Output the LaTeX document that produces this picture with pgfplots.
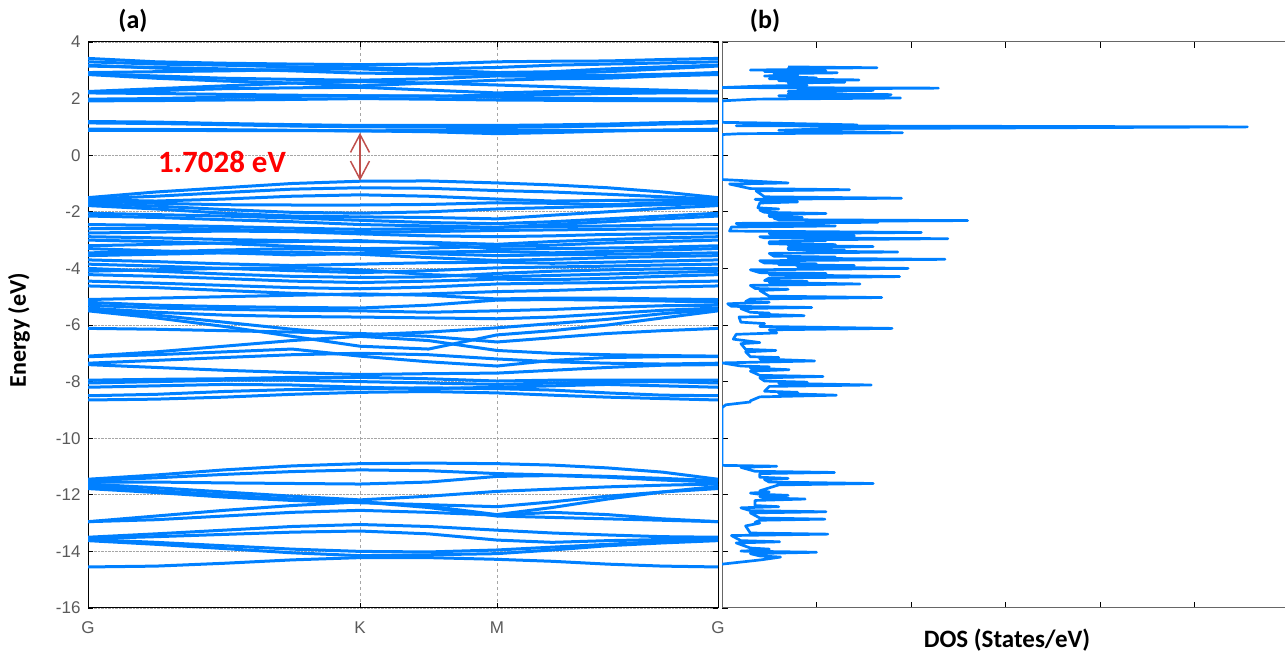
\documentclass[border=0pt]{standalone}
\usepackage{fontspec}
\setmainfont{Carlito}
\newfontfamily\tickfont{Liberation Sans}
\usepackage{pgfplots}
\usepackage{pgfplotstable}
\pgfplotsset{compat=1.18}
\usetikzlibrary{arrows.meta}
\definecolor{bandblue}{RGB}{0,128,255}
\definecolor{arrowred}{RGB}{192,80,77}
\definecolor{tickgray}{RGB}{90,90,90}

\pgfplotstableread{
name k0 k1 k2 k3 k4 k5 k6 k7 k8 k9 k10
x 0 0.1079 0.2158 0.3238 0.4317 0.5405 0.6492 0.7369 0.8246 0.9123 1
c1 1.19 1.17 1.12 1.08 1.05 1.05 1.05 1.07 1.10 1.15 1.19
c2 1.14 1.12 1.08 1.03 1.00 0.99 0.98 1.00 1.04 1.10 1.14
c3 0.92 0.91 0.90 0.88 0.86 0.83 0.76 0.80 0.85 0.89 0.92
c4 0.88 0.88 0.87 0.87 0.86 0.87 0.88 0.88 0.88 0.88 0.88
u1 3.42 3.30 3.25 3.22 3.20 3.22 3.30 3.32 3.33 3.38 3.42
u2 3.30 3.22 3.18 3.12 3.08 3.05 3.10 3.18 3.22 3.26 3.30
u3 3.18 3.08 3.00 3.02 3.10 3.02 2.92 2.95 3.05 3.12 3.18
u4 3.15 3.10 3.05 2.98 2.90 2.88 2.85 2.90 2.95 3.05 3.15
u5 2.92 2.95 2.98 3.02 3.05 2.95 2.88 2.85 2.82 2.86 2.92
u6 2.88 2.80 2.72 2.68 2.65 2.70 2.80 2.78 2.75 2.82 2.88
u7 2.85 2.72 2.62 2.55 2.45 2.55 2.65 2.70 2.72 2.80 2.85
u8 2.25 2.35 2.45 2.55 2.60 2.55 2.48 2.42 2.35 2.30 2.25
u9 2.22 2.28 2.35 2.38 2.40 2.30 2.20 2.25 2.28 2.24 2.22
u10 2.20 2.18 2.15 2.12 2.10 2.08 2.12 2.15 2.18 2.20 2.20
u11 1.98 2.00 2.05 2.08 2.10 2.10 2.05 2.02 2.00 1.99 1.98
u12 1.92 1.93 1.95 1.97 2.00 1.98 1.95 1.94 1.93 1.93 1.92
v1 -1.50 -1.30 -1.15 -1.00 -0.92 -0.91 -0.98 -1.05 -1.15 -1.30 -1.50
v2 -1.55 -1.45 -1.32 -1.20 -1.15 -1.17 -1.25 -1.30 -1.38 -1.47 -1.55
v3 -1.58 -1.62 -1.55 -1.45 -1.40 -1.45 -1.55 -1.62 -1.60 -1.58 -1.58
v4 -1.62 -1.70 -1.75 -1.76 -1.76 -1.74 -1.68 -1.70 -1.75 -1.68 -1.62
v5 -1.70 -1.80 -1.92 -2.02 -2.05 -2.00 -1.90 -1.85 -1.80 -1.75 -1.70
v6 -1.78 -1.90 -2.05 -2.15 -2.18 -2.20 -2.25 -2.12 -2.00 -1.88 -1.78
v7 -2.05 -2.10 -2.15 -2.22 -2.30 -2.38 -2.42 -2.35 -2.25 -2.15 -2.05
v8 -2.15 -2.20 -2.28 -2.35 -2.45 -2.50 -2.55 -2.45 -2.35 -2.25 -2.15
v9 -2.45 -2.48 -2.52 -2.58 -2.62 -2.60 -2.55 -2.52 -2.50 -2.47 -2.45
v10 -2.75 -2.72 -2.68 -2.70 -2.78 -2.85 -2.88 -2.85 -2.80 -2.78 -2.75
v11 -2.88 -2.92 -2.98 -3.02 -3.05 -3.08 -3.15 -3.05 -2.98 -2.92 -2.88
v12 -3.00 -3.05 -3.12 -3.22 -3.30 -3.28 -3.22 -3.18 -3.10 -3.05 -3.00
v13 -3.20 -3.15 -3.10 -3.05 -3.02 -3.12 -3.32 -3.30 -3.28 -3.25 -3.20
v14 -3.30 -3.38 -3.45 -3.52 -3.48 -3.42 -3.40 -3.45 -3.40 -3.35 -3.30
v15 -3.55 -3.50 -3.45 -3.42 -3.50 -3.62 -3.72 -3.68 -3.62 -3.58 -3.55
v16 -3.70 -3.76 -3.84 -3.90 -3.85 -3.80 -3.78 -3.82 -3.78 -3.74 -3.70
v17 -3.85 -3.92 -4.00 -4.08 -4.15 -4.08 -3.98 -3.95 -3.92 -3.88 -3.85
v18 -4.10 -4.05 -4.00 -3.98 -4.05 -4.22 -4.30 -4.25 -4.20 -4.15 -4.10
v19 -4.22 -4.28 -4.36 -4.45 -4.50 -4.45 -4.38 -4.40 -4.35 -4.28 -4.22
v20 -4.45 -4.52 -4.60 -4.68 -4.72 -4.66 -4.55 -4.52 -4.50 -4.48 -4.45
v21 -4.62 -4.68 -4.78 -4.88 -4.95 -4.90 -4.82 -4.78 -4.72 -4.66 -4.62
v22 -2.60 -2.58 -2.62 -2.68 -2.72 -2.70 -2.66 -2.64 -2.62 -2.60 -2.60
v23 -3.45 -3.42 -3.35 -3.30 -3.35 -3.48 -3.55 -3.52 -3.50 -3.48 -3.45
v24 -4.00 -4.10 -4.20 -4.28 -4.32 -4.30 -4.18 -4.10 -4.05 -4.02 -4.00
w1 -5.10 -5.05 -5.00 -4.95 -4.90 -4.95 -5.08 -5.05 -5.05 -5.08 -5.10
w2 -5.20 -5.30 -5.35 -5.38 -5.40 -5.30 -5.12 -5.10 -5.12 -5.15 -5.20
w3 -5.30 -5.40 -5.45 -5.48 -5.50 -5.55 -5.50 -5.45 -5.38 -5.32 -5.30
w4 -5.40 -5.55 -5.65 -5.70 -5.72 -5.75 -5.78 -5.72 -5.60 -5.48 -5.40
w5 -5.45 -5.65 -5.90 -6.15 -6.35 -6.25 -6.10 -5.95 -5.80 -5.60 -5.45
w6 -5.50 -5.75 -6.05 -6.40 -6.75 -6.85 -6.35 -6.20 -6.00 -5.75 -5.50
w7 -6.12 -6.15 -6.20 -6.25 -6.30 -6.40 -6.60 -6.45 -6.30 -6.20 -6.12
w8 -7.10 -6.95 -6.75 -6.55 -6.40 -6.55 -6.90 -7.00 -7.05 -7.08 -7.10
w9 -7.12 -7.05 -6.95 -6.85 -7.10 -7.30 -7.45 -7.25 -7.15 -7.12 -7.12
w10 -7.35 -7.25 -7.15 -7.05 -7.00 -7.05 -7.20 -7.30 -7.35 -7.38 -7.35
w11 -7.40 -7.50 -7.60 -7.68 -7.75 -7.72 -7.70 -7.60 -7.50 -7.42 -7.40
w12 -7.95 -7.92 -7.90 -7.85 -7.85 -7.90 -7.98 -7.95 -7.95 -7.95 -7.95
w13 -8.05 -8.00 -7.95 -7.95 -8.00 -8.05 -8.10 -8.05 -8.02 -8.00 -8.05
w14 -8.20 -8.15 -8.10 -8.12 -8.20 -8.25 -8.20 -8.15 -8.10 -8.15 -8.20
w15 -8.50 -8.45 -8.35 -8.28 -8.25 -8.22 -8.25 -8.30 -8.40 -8.48 -8.50
w16 -8.65 -8.62 -8.55 -8.45 -8.38 -8.35 -8.40 -8.48 -8.55 -8.60 -8.65
t1 -11.45 -11.30 -11.12 -10.98 -10.90 -10.88 -10.90 -10.95 -11.05 -11.20 -11.45
t2 -11.50 -11.40 -11.28 -11.18 -11.12 -11.15 -11.25 -11.30 -11.35 -11.42 -11.50
t3 -11.55 -11.55 -11.58 -11.60 -11.62 -11.55 -11.35 -11.32 -11.38 -11.48 -11.55
t4 -11.62 -11.75 -11.90 -12.05 -12.18 -12.05 -11.88 -11.80 -11.72 -11.66 -11.62
t5 -11.70 -11.85 -12.00 -12.15 -12.25 -12.40 -12.70 -12.45 -12.15 -11.90 -11.70
t6 -11.78 -11.92 -12.08 -12.20 -12.28 -12.35 -12.42 -12.25 -12.05 -11.90 -11.78
t7 -12.95 -12.75 -12.55 -12.38 -12.25 -12.45 -12.75 -12.80 -12.85 -12.90 -12.95
t8 -12.95 -12.88 -12.75 -12.62 -12.55 -12.62 -12.72 -12.62 -12.70 -12.85 -12.95
t9 -13.50 -13.38 -13.25 -13.12 -13.05 -13.12 -13.25 -13.35 -13.42 -13.48 -13.50
t10 -13.55 -13.48 -13.40 -13.32 -13.28 -13.38 -13.60 -13.68 -13.62 -13.58 -13.55
t11 -13.58 -13.68 -13.80 -13.92 -14.00 -14.02 -13.95 -13.85 -13.75 -13.65 -13.58
t12 -13.62 -13.75 -13.90 -14.05 -14.15 -14.12 -14.08 -13.95 -13.80 -13.70 -13.62
t13 -14.55 -14.52 -14.42 -14.30 -14.22 -14.22 -14.28 -14.35 -14.45 -14.52 -14.55
}\bandrows
\pgfplotstabletranspose[colnames from=name]{\bands}{\bandrows}

\begin{document}
\begin{tikzpicture}
\useasboundingbox (0pt,0pt) rectangle (1285pt,658pt);
\begin{axis}[
  scale only axis, width=630pt, height=566pt,
  at={(88pt,50pt)}, anchor=south west,
  xmin=0, xmax=1, ymin=-16, ymax=4,
  xtick={0,0.4317,0.6492,1}, xticklabels={G,K,M,G},
  ytick={-16,-14,...,4},
  ymajorgrids, xmajorgrids,
  y grid style={densely dotted, gray!70, line width=0.8pt},
  x grid style={dashed, gray!70, line width=0.6pt},
  axis line style={black, line width=1pt},
  major tick length=5pt,
  tick style={black, line width=0.8pt},
  /pgf/number format/assume math mode=true,
  tick label style={font=\tickfont\fontsize{17}{17}\selectfont, text=tickgray},
  xticklabel style={yshift=-10pt},
  yticklabel style={xshift=-4pt},
]
\pgfplotsinvokeforeach{c1,c2,c3,c4,u1,u2,u3,u4,u5,u6,u7,u8,u9,u10,u11,u12,v1,v2,v3,v4,v5,v6,v7,v8,v9,v10,v11,v12,v13,v14,v15,v16,v17,v18,v19,v20,v21,v22,v23,v24,w1,w2,w3,w4,w5,w6,w7,w8,w9,w10,w11,w12,w13,w14,w15,w16,t1,t2,t3,t4,t5,t6,t7,t8,t9,t10,t11,t12,t13}{
  \addplot[bandblue, line width=3pt, no markers, sharp plot] table[x=x, y=#1] {\bands};
}
\node[text=red, font=\bfseries\fontsize{31}{31}\selectfont] at (axis cs:0.2127,-0.24) {1.7028 eV};
\draw[arrowred, line width=1.5pt, {Straight Barb[length=18pt,width=19pt]}-{Straight Barb[length=18pt,width=19pt]}] (axis cs:0.4317,0.79) -- (axis cs:0.4317,-0.90);
\end{axis}

\begin{axis}[
  scale only axis, width=563pt, height=566pt,
  at={(722pt,50pt)}, anchor=south west,
  xmin=0, xmax=5.958, ymin=-16, ymax=4,
  xtick={1,2,3,4,5}, xticklabels={},
  ytick={-16,-14,...,4}, yticklabels={},
  ytick pos=left,
  axis line style={gray!80!black, line width=1pt},
  major tick length=6pt,
  tick style={black, line width=0.8pt},
]
\addplot[bandblue, line width=2.7pt, no markers, sharp plot, line join=round] coordinates {
(0.70,3.12)(1.64,3.09)(0.70,3.07)(0.90,3.03)(0.30,3.01)(1.10,2.98)(0.45,2.96)(1.22,2.91)
(0.55,2.88)(0.80,2.83)(0.45,2.80)(1.00,2.73)(0.50,2.70)(1.45,2.66)(0.60,2.63)(1.30,2.58)
(0.70,2.55)(0.90,2.47)(0.40,2.44)(0,2.39)(2.29,2.37)(0.80,2.34)(1.60,2.29)(0.70,2.26)
(1.20,2.21)(0.70,2.18)(1.79,2.14)(0.60,2.10)(1.89,2.02)(0.35,1.98)(0,1.92)(0,1.16)
(0.43,1.14)(1.43,1.07)(0.15,1.04)(5.56,1.00)(3.54,0.97)(1.20,0.94)(0.60,0.88)(1.91,0.79)
(0.20,0.76)(0,0.73)(0,-0.86)
(0.70,-0.98)(0.08,-1.02)
(0.30,-1.18)(1.35,-1.22)(0.36,-1.26)
(0.45,-1.47)(1.90,-1.52)(0.35,-1.56)
(0.50,-1.62)(0.80,-1.65)(0.40,-1.69)
(0.38,-1.86)(0.60,-1.90)(0.40,-1.94)
(0.45,-2.02)(1.10,-2.06)(0.50,-2.10)
(0.50,-2.17)(0.85,-2.20)(0.55,-2.23)
(0.60,-2.28)(2.60,-2.31)(1.00,-2.34)(1.65,-2.37)(0.15,-2.41)
(0.20,-2.47)(1.20,-2.50)(0.10,-2.54)
(0.08,-2.68)(2.11,-2.73)(0.50,-2.77)
(0.60,-2.82)(1.40,-2.85)(0.40,-2.88)
(0.45,-2.92)(2.39,-2.95)(0.90,-2.99)(1.10,-3.02)(0.50,-3.06)
(0.50,-3.13)(1.20,-3.16)(0.70,-3.19)(1.60,-3.23)(0.70,-3.27)
(0.70,-3.33)(1.30,-3.36)(0.90,-3.39)(1.86,-3.42)(0.50,-3.47)
(0.55,-3.57)(1.20,-3.60)(0.70,-3.64)(2.36,-3.68)(0.40,-3.73)
(0.45,-3.81)(1.00,-3.84)(0.60,-3.87)(1.40,-3.90)(0.80,-3.95)(1.97,-4.00)(0.30,-4.05)
(0.40,-4.15)(1.10,-4.18)(0.50,-4.22)(1.88,-4.29)(0.50,-4.34)
(0.45,-4.43)(0.90,-4.46)(0.50,-4.50)(1.46,-4.55)(0.30,-4.60)
(0.35,-4.71)(0.70,-4.74)(0.40,-4.78)
(0.50,-4.98)(1.69,-5.03)(0.30,-5.08)
(0.25,-5.17)(0.50,-5.20)(0.06,-5.25)
(0.10,-5.34)(0.95,-5.38)(0.20,-5.42)
(0.30,-5.55)(0.50,-5.58)(0.40,-5.62)(0.87,-5.67)(0.18,-5.72)
(0.20,-5.90)(0.45,-5.95)(0.40,-6.05)(1.80,-6.12)(0.50,-6.17)(0.58,-6.28)(0.15,-6.33)
(0.12,-6.50)(0.40,-6.62)(0.20,-6.66)
(0.25,-6.86)(0.57,-6.90)(0.25,-6.95)
(0.30,-7.12)(0.60,-7.15)(0.40,-7.20)(0.98,-7.27)(0.00,-7.34)
(0.20,-7.45)(0.50,-7.48)(0.30,-7.52)(0.71,-7.58)(0.30,-7.63)
(0.40,-7.78)(1.07,-7.82)(0.40,-7.87)
(0.45,-7.98)(0.90,-8.02)(0.60,-8.06)(1.58,-8.12)(0.50,-8.17)
(0.45,-8.34)(0.80,-8.38)(0.60,-8.42)(1.21,-8.48)(0.40,-8.54)
(0.30,-8.68)(0.30,-8.72)(0.04,-8.82)(0,-8.92)(0,-10.96)
(0.58,-10.99)(0.20,-11.03)
(0.35,-11.17)(1.19,-11.21)(0.40,-11.25)
(0.40,-11.38)(0.70,-11.42)(0.45,-11.46)
(0.50,-11.55)(1.60,-11.60)(0.60,-11.65)
(0.40,-11.86)(0.50,-11.90)(0.30,-11.94)
(0.40,-11.98)(0.70,-12.02)(0.40,-12.06)
(0.45,-12.11)(0.88,-12.15)(0.35,-12.20)
(0.35,-12.38)(0.60,-12.42)(0.20,-12.46)
(0.30,-12.56)(1.10,-12.60)(0.30,-12.64)
(0.40,-12.82)(1.09,-12.86)(0.40,-12.90)
(0.35,-12.97)(0.40,-13.00)(0.25,-13.10)
(0.30,-13.35)(1.12,-13.39)(0.10,-13.44)
(0.20,-13.62)(0.61,-13.66)(0.15,-13.70)
(0.30,-13.88)(0.50,-13.92)(0.40,-13.96)
(0.20,-13.99)(1.00,-14.03)(0.30,-14.08)
(0.40,-14.16)(0.62,-14.20)(0.41,-14.30)(0,-14.45)
};
\end{axis}

\node[font=\bfseries\fontsize{26}{26}\selectfont] at (133pt,637pt) {(a)};
\node[font=\bfseries\fontsize{26}{26}\selectfont] at (765pt,637pt) {(b)};
\node[rotate=90, font=\bfseries\fontsize{24}{24}\selectfont] at (19pt,328pt) {Energy (eV)};
\node[font=\bfseries\fontsize{25}{25}\selectfont] at (1007pt,18pt) {DOS (States/eV)};
\end{tikzpicture}
\end{document}
